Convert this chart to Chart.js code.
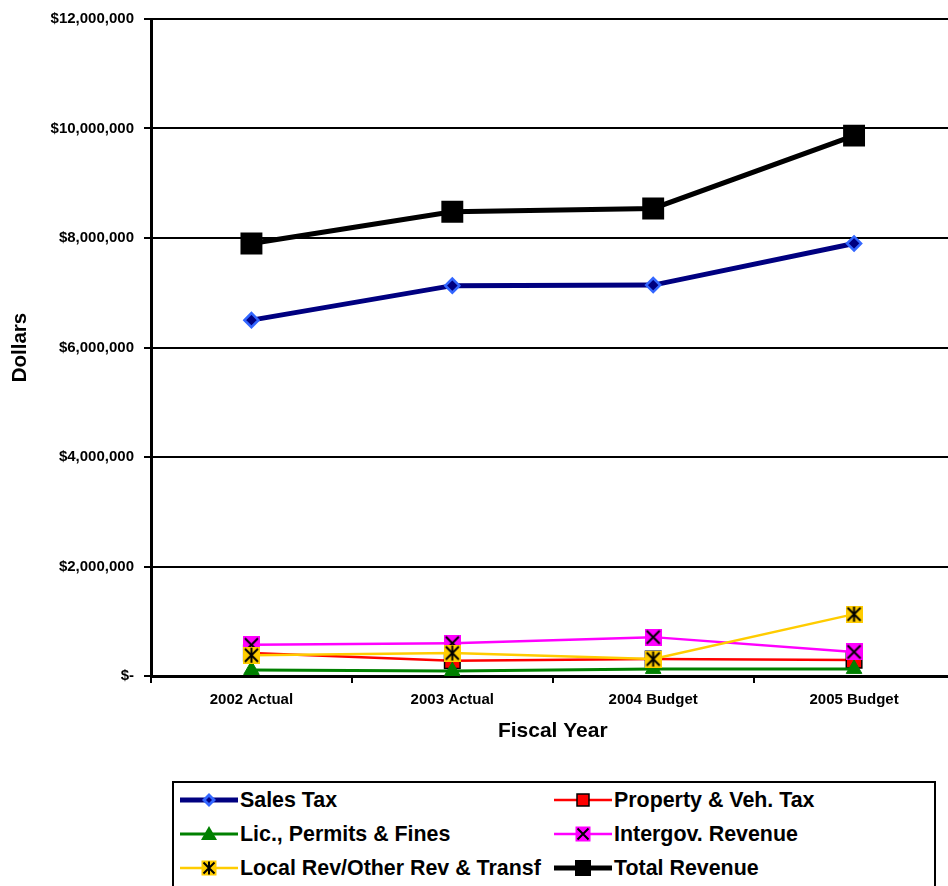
<!DOCTYPE html>
<html><head><meta charset="utf-8">
<script src="https://cdn.jsdelivr.net/npm/chart.js@4/dist/chart.umd.min.js"></script>
<style>
html,body{margin:0;padding:0;background:#fff;overflow:hidden;width:948px;height:886px;}
#wrap{position:absolute;left:0;top:0;width:970px;height:760px;}
#legend{position:absolute;left:172px;top:781px;width:764px;height:130px;border:2px solid #000;box-sizing:border-box;font:bold 21.4px "Liberation Sans",Arial,sans-serif;color:#000;}
.item{position:absolute;height:30px;display:flex;align-items:center;white-space:nowrap;}
.item canvas{flex:none;margin-right:2px;}
</style></head>
<body>
<div id="wrap"><canvas id="c" width="970" height="760" style="width:970px;height:760px"></canvas></div>
<div id="legend"></div>
<script>
// Revenue by source, fiscal years 2002-2005
const categories = ['2002 Actual', '2003 Actual', '2004 Budget', '2005 Budget'];
const salesTax     = [6500000, 7130000, 7140000, 7900000];
const propertyTax  = [420000, 280000, 310000, 290000];
const licPermits   = [110000, 90000, 130000, 130000];
const intergovRev  = [570000, 600000, 710000, 440000];
const localRev     = [380000, 420000, 310000, 1130000];
const totalRevenue = [7900000, 8480000, 8540000, 9870000];
const seriesNames  = ['Sales Tax', 'Property & Veh. Tax', 'Lic., Permits & Fines', 'Intergov. Revenue', 'Local Rev/Other Rev & Transf', 'Total Revenue'];
const yTickValues  = [0, 2000000, 4000000, 6000000, 8000000, 10000000, 12000000];
const yTickLabels  = ['$-', '$2,000,000', '$4,000,000', '$6,000,000', '$8,000,000', '$10,000,000', '$12,000,000'];

const F = '"Liberation Sans", Arial, sans-serif';
const NAVY = '#000080', RED = '#FF0000', GREEN = '#008000', MAGENTA = '#FF00FF', YELLOW = '#FFCC00', BLACK = '#000000';

// Square markers with a cross (intergov) or asterisk (local revenue)
function drawCrossBox(ctx, cx, cy, s, fill, star) {
  const h = s / 2;
  ctx.fillStyle = fill;
  ctx.fillRect(cx - h, cy - h, s, s);
  ctx.strokeStyle = BLACK;
  ctx.lineWidth = 2;
  ctx.beginPath();
  ctx.moveTo(cx - h + 2, cy - h + 2); ctx.lineTo(cx + h - 2, cy + h - 2);
  ctx.moveTo(cx + h - 2, cy - h + 2); ctx.lineTo(cx - h + 2, cy + h - 2);
  if (star) { ctx.moveTo(cx, cy - h + 1); ctx.lineTo(cx, cy + h - 1); }
  ctx.stroke();
}
function markerCanvas(fill, star) {
  const s = 17;
  const cv = document.createElement('canvas');
  cv.width = s; cv.height = s;
  drawCrossBox(cv.getContext('2d'), s / 2, s / 2, s, fill, star);
  return cv;
}
const intergovMarker = markerCanvas(MAGENTA, false);
const localMarker = markerCanvas(YELLOW, true);

const datasets = [
  { label: seriesNames[0], data: salesTax, borderColor: NAVY, borderWidth: 5, pointStyle: 'rectRot', pointRadius: 7,
    pointBackgroundColor: NAVY, pointBorderColor: '#3366FF', pointBorderWidth: 2.5, order: 6 },
  { label: seriesNames[1], data: propertyTax, borderColor: RED, borderWidth: 2.5, pointStyle: 'rect', pointRadius: 11,
    pointBackgroundColor: RED, pointBorderColor: BLACK, pointBorderWidth: 1.5, order: 5 },
  { label: seriesNames[2], data: licPermits, borderColor: GREEN, borderWidth: 3, pointStyle: 'triangle', pointRadius: 9,
    pointBackgroundColor: GREEN, pointBorderColor: GREEN, pointBorderWidth: 1, order: 4 },
  { label: seriesNames[3], data: intergovRev, borderColor: MAGENTA, borderWidth: 2.5, pointStyle: intergovMarker, order: 3 },
  { label: seriesNames[4], data: localRev, borderColor: YELLOW, borderWidth: 2.5, pointStyle: localMarker, order: 2 },
  { label: seriesNames[5], data: totalRevenue, borderColor: BLACK, borderWidth: 5, pointStyle: 'rect', pointRadius: 15.5,
    pointBackgroundColor: BLACK, pointBorderColor: BLACK, pointBorderWidth: 0, order: 1 }
];
datasets.forEach(d => { d.fill = false; d.tension = 0; d.backgroundColor = d.borderColor; });

new Chart(document.getElementById('c'), {
  type: 'line',
  data: { labels: categories, datasets },
  options: {
    responsive: false, animation: false, events: [],
    layout: { padding: { top: 18, right: 0, left: 0, bottom: 0 } },
    plugins: { legend: { display: false }, tooltip: { enabled: false } },
    scales: {
      x: {
        offset: true,
        grid: { display: true, drawOnChartArea: false, offset: true, tickLength: 7, color: BLACK, lineWidth: 2 },
        border: { display: true, color: BLACK, width: 3 },
        ticks: { color: BLACK, font: { family: F, size: 15, weight: 'bold' }, padding: 8, maxRotation: 0 },
        title: { display: true, text: 'Fiscal Year', color: BLACK, font: { family: F, size: 21, weight: 'bold' }, padding: { top: 0, bottom: 16 } },
        afterFit(s) { s.height = 84; }
      },
      y: {
        min: 0, max: 12000000,
        afterBuildTicks(s) { s.ticks = yTickValues.map(v => ({ value: v })); },
        grid: { color: BLACK, lineWidth: 2, tickLength: 7 },
        border: { display: true, color: BLACK, width: 3 },
        ticks: { color: BLACK, font: { family: F, size: 15, weight: 'bold' }, padding: 10,
                 callback: v => yTickLabels[yTickValues.indexOf(v)] },
        title: { display: true, text: 'Dollars', color: BLACK, font: { family: F, size: 20.5, weight: 'bold' }, padding: { top: 8, bottom: 0 } },
        afterFit(s) { s.width = 151; }
      }
    }
  }
});

// Two-column legend
function legendIcon(i) {
  const w = 58, h = 30, cv = document.createElement('canvas');
  cv.width = w; cv.height = h;
  const ctx = cv.getContext('2d'), d = datasets[i], cy = h / 2, cx = w / 2;
  ctx.strokeStyle = d.borderColor; ctx.lineWidth = d.borderWidth;
  ctx.beginPath(); ctx.moveTo(0, cy); ctx.lineTo(w, cy); ctx.stroke();
  if (i === 0) {
    ctx.beginPath(); ctx.moveTo(cx, cy - 7); ctx.lineTo(cx + 7, cy); ctx.lineTo(cx, cy + 7); ctx.lineTo(cx - 7, cy); ctx.closePath();
    ctx.fillStyle = '#3366FF'; ctx.fill();
    ctx.beginPath(); ctx.moveTo(cx, cy - 3); ctx.lineTo(cx + 3, cy); ctx.lineTo(cx, cy + 3); ctx.lineTo(cx - 3, cy); ctx.closePath();
    ctx.fillStyle = NAVY; ctx.fill();
  } else if (i === 1) {
    ctx.fillStyle = RED; ctx.fillRect(cx - 6, cy - 6, 12, 12);
    ctx.strokeStyle = BLACK; ctx.lineWidth = 1.5; ctx.strokeRect(cx - 6, cy - 6, 12, 12);
  } else if (i === 2) {
    ctx.beginPath(); ctx.moveTo(cx, cy - 8); ctx.lineTo(cx + 8, cy + 6); ctx.lineTo(cx - 8, cy + 6); ctx.closePath();
    ctx.fillStyle = GREEN; ctx.fill();
  } else if (i === 3) {
    drawCrossBox(ctx, cx, cy, 15, MAGENTA, false);
  } else if (i === 4) {
    drawCrossBox(ctx, cx, cy, 15, YELLOW, true);
  } else {
    ctx.fillStyle = BLACK; ctx.fillRect(cx - 8, cy - 8, 16, 16);
  }
  return cv;
}
const legend = document.getElementById('legend');
const slots = [[6, 2], [380, 2], [6, 36], [380, 36], [6, 70], [380, 70]];
seriesNames.forEach((name, i) => {
  const it = document.createElement('div');
  it.className = 'item';
  it.style.left = slots[i][0] + 'px';
  it.style.top = slots[i][1] + 'px';
  it.appendChild(legendIcon(i));
  const t = document.createElement('span');
  t.textContent = name;
  it.appendChild(t);
  legend.appendChild(it);
});
</script>
</body></html>
